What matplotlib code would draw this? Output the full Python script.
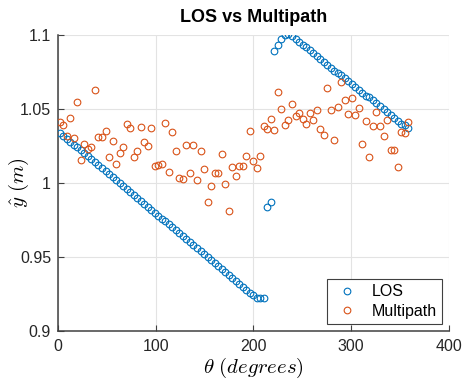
import numpy as np
import matplotlib
matplotlib.use("Agg")
import matplotlib.pyplot as plt

plt.rcParams['font.family'] = ['Liberation Sans', 'DejaVu Sans']
plt.rcParams['mathtext.fontset'] = 'cm'

theta = np.arange(1.8, 360, 3.6)  # 100 angles (degrees)

los = [1.034, 1.032, 1.030, 1.028, 1.026, 1.024, 1.022, 1.020, 1.018, 1.016,
       1.014, 1.012, 1.010, 1.008, 1.006, 1.004, 1.002, 1.000, 0.998, 0.996,
       0.994, 0.992, 0.990, 0.988, 0.986, 0.984, 0.982, 0.980, 0.978, 0.976,
       0.974, 0.972, 0.970, 0.968, 0.966, 0.964, 0.962, 0.960, 0.958, 0.956,
       0.954, 0.952, 0.950, 0.948, 0.946, 0.944, 0.942, 0.940, 0.938, 0.936,
       0.934, 0.932, 0.930, 0.928, 0.926, 0.924, 0.9225, 0.922, 0.922,
       0.984, 0.987, 1.089, 1.093, 1.097, 1.100, 1.101, 1.099, 1.097, 1.095,
       1.093, 1.092, 1.090, 1.088, 1.086, 1.084, 1.082, 1.080, 1.078, 1.076,
       1.074, 1.073, 1.071, 1.069, 1.067, 1.065, 1.063, 1.061, 1.059, 1.058,
       1.056, 1.054, 1.052, 1.050, 1.048, 1.046, 1.044, 1.042, 1.040, 1.039,
       1.037]

multipath = [1.041, 1.0392, 1.0318, 1.0441, 1.0304, 1.0549, 1.0153, 1.0264, 1.023, 1.024,
             1.063, 1.0313, 1.031, 1.035, 1.0174, 1.0286, 1.0128, 1.0205, 1.0245, 1.0399,
             1.037, 1.0178, 1.0218, 1.0376, 1.0279, 1.025, 1.0374, 1.0117, 1.0124, 1.0128,
             1.0408, 1.0077, 1.0342, 1.0216, 1.0031, 1.0025, 1.0255, 1.007, 1.0255, 1.002,
             1.0216, 1.0097, 0.9874, 0.998, 1.007, 1.007, 1.0196, 0.9995, 0.981, 1.011,
             1.0049, 1.0115, 1.0115, 1.0185, 1.035, 1.0149, 1.0099, 1.0185, 1.0387, 1.0363,
             1.0432, 1.0356, 1.0617, 1.0498, 1.0392, 1.0426, 1.0532, 1.0453, 1.0475, 1.0432,
             1.04, 1.0475, 1.0426, 1.0491, 1.0365, 1.0324, 1.0644, 1.0491, 1.029, 1.0511,
             1.068, 1.0561, 1.0464, 1.0576, 1.046, 1.0505, 1.0261, 1.0421, 1.0176, 1.0387,
             1.0478, 1.0387, 1.032, 1.0426, 1.0223, 1.0223, 1.011, 1.0347, 1.0336, 1.041]

xticks = [0, 100, 200, 300, 400]
yticks = [0.9, 0.95, 1.0, 1.05, 1.1]
yticklabels = ['0.9', '0.95', '1', '1.05', '1.1']

fig = plt.figure(figsize=(4.66, 3.81), dpi=100)
ax = fig.add_axes([58/466, 1-331/381, (449-58)/466, (331-35)/381])

ax.plot(theta, los, linestyle='none', marker='o', markersize=4.8,
        markerfacecolor='none', markeredgecolor='#0072BD', markeredgewidth=0.8,
        label='LOS', zorder=3)
ax.plot(theta, multipath, linestyle='none', marker='o', markersize=4.8,
        markerfacecolor='none', markeredgecolor='#D95319', markeredgewidth=0.8,
        label='Multipath', zorder=3)

ax.set_xlim(0, 400)
ax.set_ylim(0.9, 1.1)
ax.set_xticks(xticks)
ax.set_yticks(yticks)
ax.set_yticklabels(yticklabels)
ax.grid(True, color='#e3e3e3', linewidth=0.8)
ax.set_axisbelow(True)
for s in ['top', 'right']:
    ax.spines[s].set_visible(False)
for s in ['left', 'bottom']:
    ax.spines[s].set_color('#404040')
    ax.spines[s].set_linewidth(1.1)
ax.tick_params(direction='in', length=4, width=0.8, colors='#404040',
               labelcolor='#262626', labelsize=11.5)
ax.tick_params(axis='x', pad=6)
ax.tick_params(axis='y', pad=5)

ax.set_title('LOS vs Multipath', fontsize=13, fontweight='bold', pad=9)
ax.set_xlabel(r'$\theta\ (degrees)$', fontsize=15, labelpad=1)
ax.set_ylabel(r'$\hat{y}\ (m)$', fontsize=15)
ax.yaxis.set_label_coords(-0.068, 0.5)

leg = ax.legend(loc='lower right', fontsize=11.5, frameon=True, fancybox=False,
                edgecolor='#404040', framealpha=1, borderpad=0.3,
                handletextpad=0.6, handlelength=1.9, borderaxespad=0.45,
                labelspacing=0.3)
leg.get_frame().set_linewidth(0.8)

fig.savefig('out.png', dpi=100)
